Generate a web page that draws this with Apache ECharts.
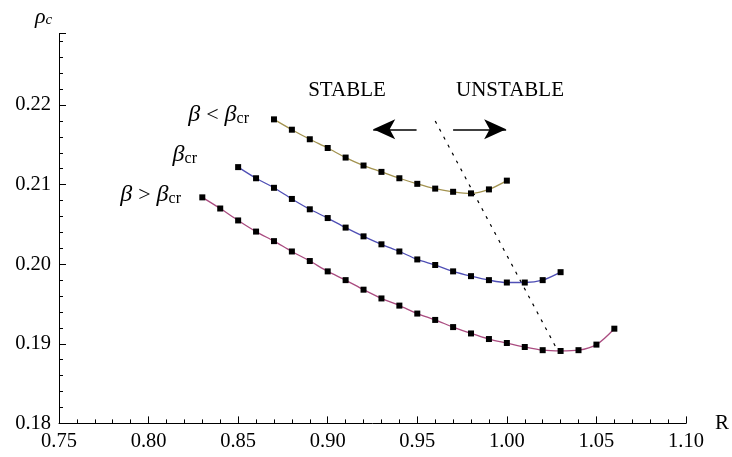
<!DOCTYPE html>
<html><head><meta charset="utf-8">
<script src="https://cdn.jsdelivr.net/npm/echarts/dist/echarts.min.js"></script>
<style>html,body{margin:0;padding:0;background:#fff}#c{width:732px;height:457px}</style>
</head><body><div id="c"></div>
<script>
// R values and rho_c values for each curve
const rLow = [0.87,0.88,0.89,0.90,0.91,0.92,0.93,0.94,0.95,0.96,0.97,0.98,0.99,1.00];
const rhoLow = [0.2182,0.2169,0.2157,0.2146,0.2134,0.2124,0.2116,0.2108,0.2101,0.2095,0.2091,0.2089,0.2094,0.2105];
const rCr = [0.85,0.86,0.87,0.88,0.89,0.90,0.91,0.92,0.93,0.94,0.95,0.96,0.97,0.98,0.99,1.00,1.01,1.02,1.03];
const rhoCr = [0.2122,0.2108,0.2096,0.2082,0.2069,0.2058,0.2046,0.2035,0.2025,0.2016,0.2006,0.1999,0.1991,0.1985,0.1980,0.1977,0.1977,0.1980,0.1990];
const rHigh = [0.83,0.84,0.85,0.86,0.87,0.88,0.89,0.90,0.91,0.92,0.93,0.94,0.95,0.96,0.97,0.98,0.99,1.00,1.01,1.02,1.03,1.04,1.05,1.06];
const rhoHigh = [0.2084,0.2070,0.2055,0.2041,0.2029,0.2016,0.2004,0.1991,0.1980,0.1968,0.1957,0.1948,0.1938,0.1930,0.1921,0.1913,0.1906,0.1901,0.1896,0.1892,0.1891,0.1892,0.1899,0.1919];
// stability boundary (dotted) and arrows
const boundaryR = [0.96, 1.028];
const boundaryRho = [0.2180, 0.1893];
const arrowLeft = [[0.9496, 0.21695], [0.9254, 0.21695]];
const arrowRight = [[0.9700, 0.21695], [0.9996, 0.21695]];
// axis ticks
const xTicks = {min: 0.75, max: 1.10, interval: 0.05};
const yTicks = {min: 0.18, max: 0.229, interval: 0.01};

const zip = (a, b) => a.map((v, i) => [v, b[i]]);
const FONT = 'Liberation Serif';

const chart = echarts.init(document.getElementById('c'), null, {renderer: 'canvas'});

function curve(name, xs, ys, color) {
  return {
    name, type: 'line', data: zip(xs, ys), smooth: 0.3,
    symbol: 'rect', symbolSize: 6,
    itemStyle: {color: '#000'},
    lineStyle: {color, width: 1.3},
    animation: false, z: 3
  };
}

const betaRich = {
  b: {fontFamily: FONT, fontStyle: 'italic', fontSize: 24, fill: '#000'},
  t: {fontFamily: FONT, fontSize: 22, fill: '#000', padding: [0, 6, 0, 6]},
  s: {fontFamily: FONT, fontSize: 16, fill: '#000', verticalAlign: 'bottom'}
};

chart.setOption({
  backgroundColor: '#fff',
  animation: false,
  grid: {left: 59, right: 43, top: 33.4, bottom: 33.6, containLabel: false},
  xAxis: {
    type: 'value', min: xTicks.min, max: xTicks.max, interval: xTicks.interval,
    name: 'R', nameLocation: 'end', nameGap: 29,
    nameTextStyle: {fontFamily: FONT, fontSize: 21, color: '#000', align: 'left', verticalAlign: 'middle'},
    axisLine: {show: true, onZero: false, lineStyle: {color: '#000', width: 1}},
    axisTick: {show: true, inside: true, length: 7, lineStyle: {color: '#000'}},
    minorTick: {show: true, splitNumber: 5, length: 4, lineStyle: {color: '#000'}},
    splitLine: {show: false},
    axisLabel: {fontFamily: FONT, fontSize: 20.5, color: '#000', margin: 8,
      formatter: v => v.toFixed(2)}
  },
  yAxis: {
    type: 'value', min: yTicks.min, max: yTicks.max, interval: yTicks.interval,
    axisLine: {show: true, onZero: false, lineStyle: {color: '#000', width: 1}},
    axisTick: {show: true, inside: true, length: 7, lineStyle: {color: '#000'}},
    minorTick: {show: true, splitNumber: 5, length: 4, lineStyle: {color: '#000'}},
    splitLine: {show: false},
    axisLabel: {fontFamily: FONT, fontSize: 20.5, color: '#000', margin: 8,
      showMaxLabel: false, formatter: v => v.toFixed(2)}
  },
  series: [
    curve('low', rLow, rhoLow, '#a39350'),
    curve('cr', rCr, rhoCr, '#4f4fb5'),
    curve('high', rHigh, rhoHigh, '#aa4c80'),
    {
      name: 'boundary', type: 'line', data: zip(boundaryR, boundaryRho),
      symbol: 'none', lineStyle: {color: '#000', width: 1.2, type: [3, 6]},
      z: 2,
      markLine: {
        silent: true, symbol: ['none', 'arrow'], symbolSize: [15, 22],
        label: {show: false},
        lineStyle: {color: '#000', width: 1.5, type: 'solid'},
        data: [
          [{coord: arrowLeft[0]}, {coord: arrowLeft[1]}],
          [{coord: arrowRight[0]}, {coord: arrowRight[1]}]
        ]
      }
    }
  ],
  graphic: [
    {type: 'text', x: 347, y: 90, style: {text: 'STABLE', font: '21px ' + FONT, fill: '#000', align: 'center', verticalAlign: 'middle'}},
    {type: 'text', x: 510, y: 90, style: {text: 'UNSTABLE', font: '21px ' + FONT, fill: '#000', align: 'center', verticalAlign: 'middle'}},
    {type: 'text', x: 249, y: 115, style: {
      text: '{b|β}{t|<}{b|β}{s|cr}', align: 'right', verticalAlign: 'middle', rich: betaRich}},
    {type: 'text', x: 197, y: 155, style: {
      text: '{b|β}{s|cr}', align: 'right', verticalAlign: 'middle', rich: betaRich}},
    {type: 'text', x: 181, y: 195, style: {
      text: '{b|β}{t|>}{b|β}{s|cr}', align: 'right', verticalAlign: 'middle', rich: betaRich}},
    {type: 'text', x: 35, y: 17, style: {
      text: '{p|ρ}{c|c}', align: 'left', verticalAlign: 'middle',
      rich: {
        p: {fontFamily: FONT, fontStyle: 'italic', fontSize: 22, fill: '#000'},
        c: {fontFamily: FONT, fontStyle: 'italic', fontSize: 15, fill: '#000', verticalAlign: 'bottom'}
      }}}
  ]
});
</script>
</body></html>
